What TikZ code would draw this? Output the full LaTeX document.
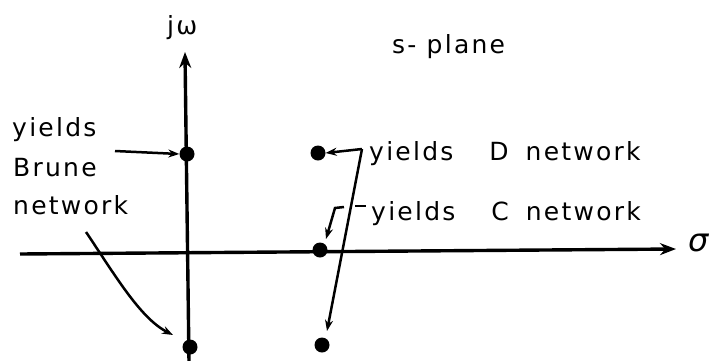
\documentclass[tikz,border=0pt]{standalone}
\usepackage{fontspec}
\setmainfont[LetterSpace=9]{DejaVu Sans}
\usetikzlibrary{arrows.meta}
\begin{document}
\begin{tikzpicture}[x=1pt,y=-1pt,
  axis/.style={line width=3.4pt,-{Stealth[length=16pt,width=12pt]}},
  pointer/.style={line width=2.5pt,-{Stealth[length=11pt,width=8pt]}},
  openpointer/.style={line width=2.5pt,-{Stealth[open,length=11pt,width=8pt]}},
  plain/.style={line width=2.5pt},
  pole/.style={circle,fill=black,inner sep=0pt,minimum size=15pt},
  lbl/.style={anchor=base west,inner sep=0pt,font=\fontsize{25}{29}\selectfont}]
\useasboundingbox (0,0) rectangle (713,360);
% axes
\coordinate (vtop) at (185,52);
\coordinate (vbot) at (189,362);
\coordinate (hleft) at (20,254);
\coordinate (hright) at (676,249);
\draw[line width=3.4pt] (vbot) -- (185.6,100);
\draw[axis] (185.6,100) -- (vtop);
\draw[axis] (hleft) -- (hright);
\node[lbl] (jw) at (167,34) {jω};
\node[lbl,font=\fontsize{32}{36}\selectfont\itshape] (sigma) at (688,251) {σ};
\node[lbl] (splane) at (392,53) {s- plane};
% poles
\node[pole] (b1) at (187,154) {};
\node[pole] (b2) at (190,347) {};
\node[pole] (d1) at (318,153) {};
\node[pole] (c1) at (320,250) {};
\node[pole] (d2) at (322,345) {};
% left labels
\node[lbl] (t1) at (12,136) {yields};
\node[lbl] (t2) at (13,176) {Brune};
\node[lbl] (t3) at (13,214) {network};
\coordinate (ba) at (115,151);
\draw[pointer] (ba) -- (b1.west);
\coordinate (bc) at (86,232);
\draw[openpointer] (bc) .. controls (115,275) and (140,318) .. (173,335);
% right labels
\node[lbl] (dl) at (369,160) {yields\hspace{36pt}D\hspace{17pt}network};
\node[lbl] (cl) at (371,220) {yields\hspace{36pt}C\hspace{17pt}network};
% D bracket
\coordinate (dk) at (362,149);
\draw[pointer] (dk) -- (d1.east);
\coordinate (dt) at (327,331);
\draw[pointer] (dk) -- (dt);
% C bracket
\coordinate (cd1) at (355,206);
\coordinate (cd2) at (366,206);
\draw[plain] (cd1) -- (cd2);
\coordinate (ck) at (344,207);
\coordinate (cc) at (335,208);
\coordinate (ct) at (326,239);
\draw[pointer] (ck) -- (cc) -- (ct);
\end{tikzpicture}
\end{document}
